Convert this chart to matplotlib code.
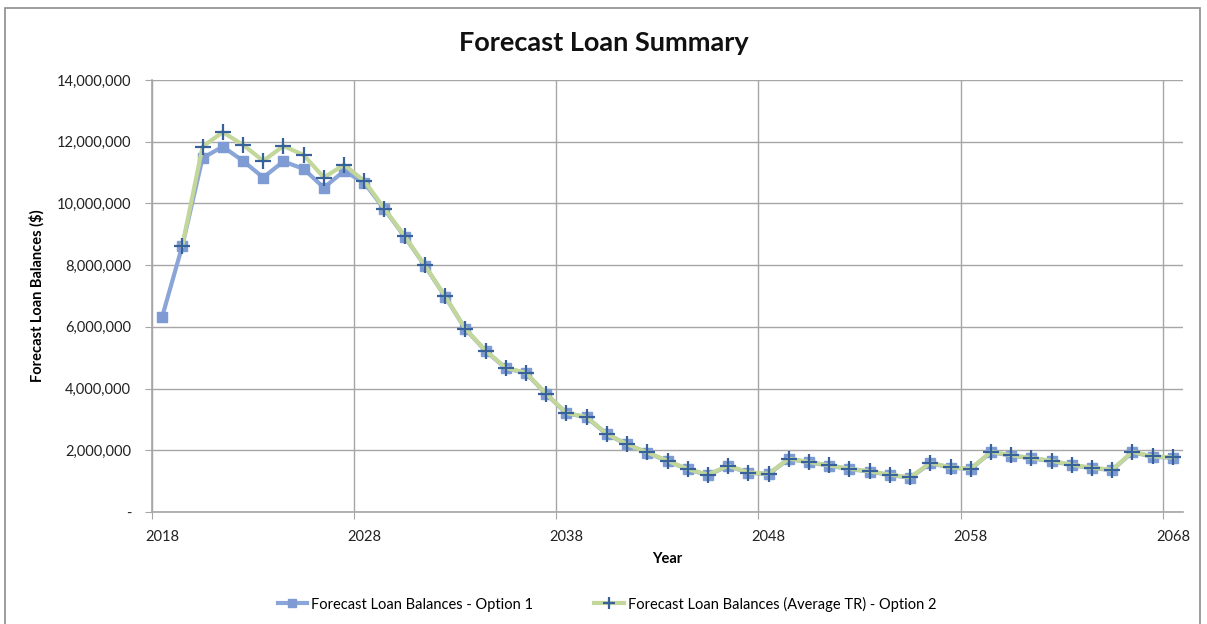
import numpy as np
import matplotlib.pyplot as plt
from matplotlib.patches import Rectangle
from matplotlib.ticker import FuncFormatter

plt.rcParams['font.family'] = ['Lato', 'DejaVu Sans']

years = list(range(2018, 2069))

option1 = [6.32, 8.63, 11.47, 11.84, 11.38, 10.84, 11.36, 11.12, 10.51, 11.05,
           10.67, 9.81, 8.92, 7.98, 6.98, 5.93, 5.22, 4.66, 4.50, 3.82,
           3.20, 3.07, 2.52, 2.19, 1.92, 1.65, 1.38, 1.20, 1.49, 1.27,
           1.23, 1.72, 1.61, 1.50, 1.39, 1.31, 1.20, 1.11, 1.58, 1.44,
           1.39, 1.94, 1.83, 1.74, 1.65, 1.52, 1.42, 1.36, 1.94, 1.79,
           1.76]

# option 2 starts one year later
years2 = years[1:]
option2 = [8.63, 11.84, 12.31, 11.90, 11.38, 11.86, 11.57, 10.84, 11.25,
           10.73, 9.83, 8.94, 7.99, 6.99, 5.94, 5.23, 4.67, 4.51, 3.83,
           3.21, 3.08, 2.53, 2.20, 1.93, 1.66, 1.39, 1.21, 1.50, 1.28,
           1.24, 1.73, 1.62, 1.51, 1.40, 1.32, 1.21, 1.12, 1.59, 1.45,
           1.40, 1.95, 1.84, 1.75, 1.66, 1.53, 1.43, 1.37, 1.95, 1.80,
           1.77]

label1 = 'Forecast Loan Balances - Option 1'
label2 = 'Forecast Loan Balances (Average TR) - Option 2'

y1 = np.array(option1) * 1e6
y2 = np.array(option2) * 1e6

fig = plt.figure(figsize=(12.07, 6.24), dpi=100)
ax = fig.add_axes([152/1207, 1 - 512/624, (1183 - 152)/1207, (512 - 80)/624])

grid_c = '#a6a6a6'
ax.plot(years, y1, color='#8aa5d8', lw=3, marker='s', ms=7,
        mfc='#7f9bd3', mec='#7f9bd3', label=label1, zorder=3)
ax.plot(years2, y2, color='#c4d79b', lw=3, marker='+', ms=11, mew=1.6,
        mec='#37619a', label=label2, zorder=4)

ax.set_xlim(2017.5, 2068.5)
ax.set_ylim(0, 14e6)
ax.set_yticks(np.arange(0, 14e6 + 1, 2e6))
ax.yaxis.set_major_formatter(FuncFormatter(lambda v, p: '-' if v == 0 else f'{v:,.0f}'))

ax.set_xticks(np.arange(2017.5, 2069, 10))
ax.set_xticklabels([])
ax.set_xticks(np.arange(2018, 2069, 10), minor=True)
ax.set_xticklabels([str(y) for y in range(2018, 2069, 10)], minor=True)
ax.tick_params(axis='x', which='minor', length=0, pad=13, labelsize=10.5, labelcolor='#222222')
ax.tick_params(axis='x', which='major', length=5, color=grid_c, direction='out')
ax.tick_params(axis='y', length=5, color=grid_c, pad=10, labelsize=10.5, labelcolor='#222222')

ax.grid(True, which='major', color=grid_c, lw=1)
for s in ['top', 'right']:
    ax.spines[s].set_visible(False)
for s in ['left', 'bottom']:
    ax.spines[s].set_color(grid_c)
    ax.spines[s].set_linewidth(1.2)

ax.set_xlabel('Year', fontsize=10.5, fontweight='bold', labelpad=6)
ax.set_ylabel('Forecast Loan Balances ($)', fontsize=10.5, fontweight='bold')
ax.yaxis.set_label_coords(-0.104, 0.5)

fig.text(0.5, 1 - 43/624, 'Forecast Loan Summary', ha='center', va='center',
         fontsize=19.5, fontweight='bold', color='#111111')

fig.legend(loc='center', bbox_to_anchor=(0.503, 1 - 604/624), ncol=2, frameon=False,
           fontsize=10.5, columnspacing=4.2, handlelength=2.0, handletextpad=0.3,
           markerscale=0.75)

fig.patches.append(Rectangle((5/1207, -0.02), 1195/1207, 1.02 - 8/624, transform=fig.transFigure,
                             fill=False, edgecolor='#8c8c8c', lw=1.2))

plt.savefig('out.png', dpi=100)
